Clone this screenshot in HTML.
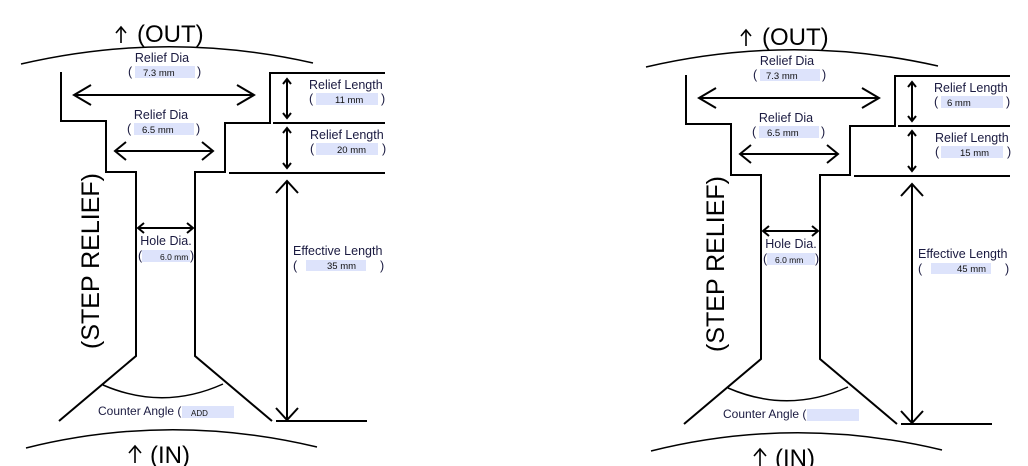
<!DOCTYPE html>
<html><head><meta charset="utf-8"><style>
html,body{margin:0;padding:0;background:#fff;}
svg{display:block;font-family:"Liberation Sans",Arial,sans-serif;}
.l{fill:none;stroke:#000;stroke-width:2;}
.t{stroke-width:1.5}
.lb{font-size:12.5px;fill:#1a1a40;}
.v{font-size:9.5px;fill:#111;}
.b{fill:#dde3fb;}
</style></head><body>
<svg width="1028" height="466" viewBox="0 0 1028 466" xmlns="http://www.w3.org/2000/svg">
<defs>
<g id="shape">
  <path class="l t" d="M21,64 Q167,30 313,63"/>
  <path class="l t" d="M26,448 Q170,412 317,447"/>
  <path class="l t" d="M103,385 Q163,411 223,384"/>
  <polyline class="l" points="61,72 61,121 106,121 106,172 136,172 136,356 59,421"/>
  <polyline class="l" points="385,73 270,73 270,123 225,123 225,172 195,172 195,356 272,421"/>
  <line class="l" x1="273" y1="123" x2="385" y2="123"/>
  <line class="l" x1="229" y1="173" x2="385" y2="173"/>
  <line class="l" x1="276" y1="421" x2="367" y2="421"/>
  <line class="l" x1="74" y1="95" x2="254" y2="95"/>
  <polyline class="l" points="91,85 74,95 91,105"/>
  <polyline class="l" points="237,85 254,95 237,105"/>
  <line class="l" x1="115" y1="151" x2="213" y2="151"/>
  <polyline class="l" points="126,142 115,151 126,160"/>
  <polyline class="l" points="202,142 213,151 202,160"/>
  <line class="l" x1="138" y1="228" x2="193" y2="228"/>
  <polyline class="l" points="144,223 138,228 144,233"/>
  <polyline class="l" points="187,223 193,228 187,233"/>
  <line class="l" x1="287" y1="79" x2="287" y2="118"/>
  <polyline class="l" points="283,84 287,79 291,84"/>
  <polyline class="l" points="283,113 287,118 291,113"/>
  <line class="l" x1="287" y1="128" x2="287" y2="168"/>
  <polyline class="l" points="283,133 287,128 291,133"/>
  <polyline class="l" points="283,163 287,168 291,163"/>
  <line class="l" x1="287" y1="181" x2="287" y2="420"/>
  <polyline class="l" points="276,193 287,181 298,193"/>
  <polyline class="l" points="276,408 287,420 298,408"/>
  <line class="l" x1="121" y1="28" x2="121" y2="43" style="stroke-width:1.6"/>
  <polyline class="l" points="116,33 121,27 126,33" style="stroke-width:1.6"/>
  <text x="137" y="42" font-size="24">(OUT)</text>
  <line class="l" x1="135" y1="447" x2="135" y2="463" style="stroke-width:1.6"/>
  <polyline class="l" points="129,453 135,446 141,453" style="stroke-width:1.6"/>
  <text x="150" y="463" font-size="24">(IN)</text>
  <text transform="translate(99,261) rotate(-90)" text-anchor="middle" font-size="25">(STEP RELIEF)</text>
  <text class="lb" x="162" y="62" text-anchor="middle">Relief  Dia</text>
  <rect class="b" x="135" y="66" width="60" height="12"/>
  <text class="lb" x="128" y="76">(</text><text class="lb" x="197" y="76">)</text>
  <text class="lb" x="161" y="119" text-anchor="middle">Relief  Dia</text>
  <rect class="b" x="134" y="123" width="60" height="12"/>
  <text class="lb" x="127" y="133">(</text><text class="lb" x="196" y="133">)</text>
  <text class="lb" x="166" y="245" text-anchor="middle">Hole Dia.</text>
  <rect class="b" x="142" y="250" width="48" height="12"/>
  <text class="lb" x="138" y="260">(</text><text class="lb" x="190" y="260">)</text>
  <text class="lb" x="309" y="89">Relief  Length</text>
  <rect class="b" x="316" y="93" width="62" height="12"/>
  <text class="lb" x="309" y="103">(</text><text class="lb" x="381" y="103">)</text>
  <text class="lb" x="310" y="139">Relief  Length</text>
  <rect class="b" x="316" y="143" width="62" height="12"/>
  <text class="lb" x="310" y="153">(</text><text class="lb" x="382" y="153">)</text>
  <text class="lb" x="293" y="255">Effective  Length</text>
  <rect class="b" x="306" y="260" width="60" height="11"/>
  <text class="lb" x="293" y="270">(</text><text class="lb" x="380" y="270">)</text>
  <rect class="b" x="182" y="406" width="52" height="12"/>
  <text class="lb" x="98" y="415" style="font-size:12px">Counter Angle (</text>
</g>
</defs>
<use href="#shape"/>
<text class="v" x="143" y="76">7.3 mm</text>
<text class="v" x="142" y="133">6.5 mm</text>
<text class="v" x="160" y="260" style="font-size:8.5px">6.0 mm</text>
<text class="v" x="335" y="103">11 mm</text>
<text class="v" x="337" y="153">20 mm</text>
<text class="v" x="327" y="269">35 mm</text>
<text class="v" x="191" y="416" style="font-size:8px">ADD</text>
<use href="#shape" transform="translate(625,3)"/>
<text class="v" x="766" y="79">7.3 mm</text>
<text class="v" x="767" y="136">6.5 mm</text>
<text class="v" x="775" y="263" style="font-size:8.5px">6.0 mm</text>
<text class="v" x="947" y="106">6 mm</text>
<text class="v" x="960" y="156">15 mm</text>
<text class="v" x="957" y="272">45 mm</text>
</svg>
</body></html>
